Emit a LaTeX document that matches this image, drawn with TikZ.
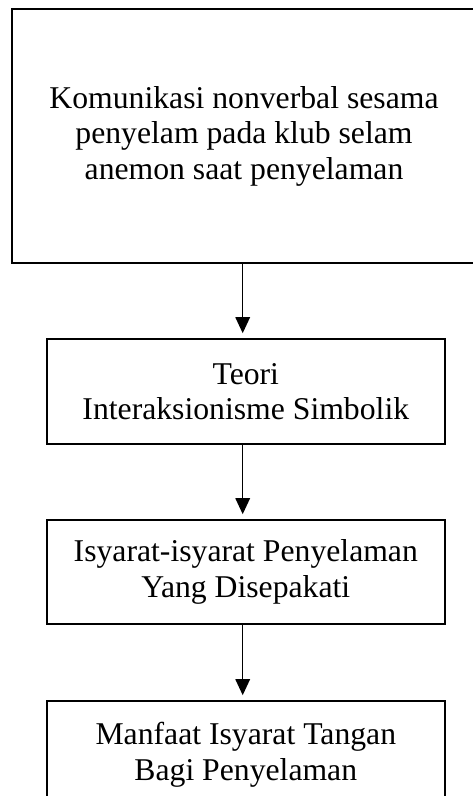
\documentclass[tikz,border=0pt]{standalone}
\usepackage{fontspec}
\setmainfont{Liberation Serif}
\usetikzlibrary{arrows.meta}
\begin{document}
\begin{tikzpicture}[x=1pt,y=1pt,
  box/.style={draw=black, line width=1.6pt, align=center, inner sep=0pt,
    font=\fontsize{31.7}{35.5}\selectfont},
  conn/.style={draw=black, line width=1.5pt, -{Triangle[length=16pt,width=14.5pt]}, shorten >=5pt}]
\useasboundingbox (0,0) rectangle (472,-796);
\fill[white] (0,0) rectangle (472,-796);
\node[box, minimum width=464pt, minimum height=254pt] (b1) at (244,-136)
  {Komunikasi nonverbal sesama\\penyelam pada klub selam\\anemon saat penyelaman};
\node[box, minimum width=398pt, minimum height=105pt] (b2) at (245.8,-391.5)
  {Teori\\Interaksionisme Simbolik};
\node[box, minimum width=398pt, minimum height=104pt] (b3) at (245.8,-572)
  {Isyarat-isyarat Penyelaman\\Yang Disepakati};
\node[box, minimum width=398pt, minimum height=108pt] (b4) at (245.8,-755)
  {Manfaat Isyarat Tangan\\Bagi Penyelaman};
\coordinate (ax) at ([xshift=-1.3pt]b1.south);
\draw[conn] (ax) -- (ax |- b2.north);
\draw[conn] (ax |- b2.south) -- (ax |- b3.north);
\draw[conn] (ax |- b3.south) -- (ax |- b4.north);
\end{tikzpicture}
\end{document}
